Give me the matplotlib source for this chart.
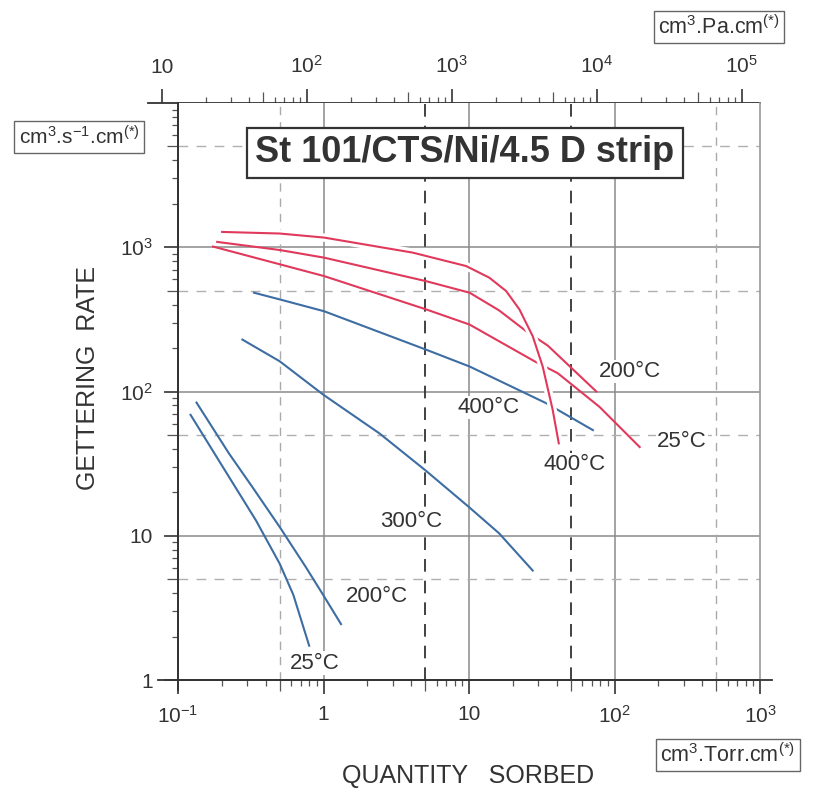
import matplotlib
matplotlib.use('Agg')
import matplotlib.pyplot as plt
import matplotlib.patheffects as pe
import numpy as np
from matplotlib.ticker import FixedLocator, NullFormatter, FixedFormatter

# Gettering curves (x: cm3.Torr.cm, y: cm3.s-1.cm)
red_400_x = [0.201, 0.5, 1.01, 4.1, 9.55, 13.8, 18, 22.2, 27.4, 32.1, 37.6, 41.4]
red_400_y = [1277, 1245, 1167, 918, 741, 615, 497, 371, 242, 149, 74.6, 43.7]

red_200_x = [0.186, 0.5, 1.01, 5.07, 10.1, 16.1, 24.7, 34.8, 75]
red_200_y = [1089, 957, 847, 582, 484, 365, 262, 208, 100]

red_25_x = [0.174, 0.5, 1.01, 5.07, 10.1, 16.1, 28.2, 40.7, 78.8, 149]
red_25_y = [1011, 762, 631, 371, 291, 223, 162, 134, 78.3, 41.2]

blue_400_x = [0.333, 0.5, 1.01, 5.07, 10.1, 33.9, 71]
blue_400_y = [484, 435, 360, 195, 149, 83, 54]

blue_300_x = [0.277, 0.5, 1.0, 2.42, 5.0, 10.0, 16.1, 27.4]
blue_300_y = [229, 162, 94.8, 51.3, 28.5, 15.8, 10.4, 5.74]

blue_200_x = [0.134, 0.224, 0.324, 0.5, 0.757, 0.985, 1.32]
blue_200_y = [83.8, 37.2, 21.8, 11.5, 6.05, 3.95, 2.44]

blue_25_x = [0.122, 0.224, 0.343, 0.5, 0.62, 0.797]
blue_25_y = [68.9, 25.6, 12.8, 6.4, 3.9, 1.73]

# curve labels: text, x, y
etiquetas = [('200°C', 127, 138), ('400°C', 13.7, 77), ('400°C', 53, 31),
             ('25°C', 290, 45), ('300°C', 4.0, 12.5), ('200°C', 2.32, 3.77),
             ('25°C', 0.867, 1.31)]

x_ticks = [0.1, 1, 10, 100, 1000]
x_labels = [r'$10^{-1}$', '1', '10', r'$10^2$', r'$10^3$']
y_ticks = [1, 10, 100, 1000]
y_labels = ['1', '10', r'$10^2$', r'$10^3$']
pa_ticks = [10, 100, 1000, 1e4, 1e5]
pa_labels = ['10', r'$10^2$', r'$10^3$', r'$10^4$', r'$10^5$']
TORR_PA = 133.32

plt.rcParams['font.family'] = ['Liberation Sans', 'DejaVu Sans']
plt.rcParams['mathtext.fontset'] = 'custom'
plt.rcParams['mathtext.rm'] = 'Liberation Sans'
plt.rcParams['mathtext.it'] = 'Liberation Sans:italic'
plt.rcParams['mathtext.bf'] = 'Liberation Sans:bold'

W, H = 813, 791
fig = plt.figure(figsize=(W / 100, H / 100), dpi=100)
L, R, T, B = 178, 760, 103, 680
ax = fig.add_axes([L / W, 1 - B / H, (R - L) / W, (B - T) / H])

ax.set_xscale('log')
ax.set_yscale('log')
ax.set_xlim(0.1, 1000)
ax.set_ylim(1, 1e4)

def minor_locs(lo, hi):
    return [m * 10.0 ** e for e in range(lo, hi) for m in range(2, 10)]

def style_ticks(axis, tickline='tick1line'):
    # medium tick at 5x
    locs = axis.get_minorticklocs()
    for t, loc in zip(axis.get_minor_ticks(len(locs)), locs):
        mant = loc / 10 ** np.floor(np.log10(loc) + 1e-9)
        if abs(mant - 5) < 0.01:
            getattr(t, tickline).set_markersize(8)

ax.xaxis.set_major_locator(FixedLocator(x_ticks))
ax.xaxis.set_major_formatter(FixedFormatter(x_labels))
ax.xaxis.set_minor_locator(FixedLocator(minor_locs(-1, 3)))
ax.xaxis.set_minor_formatter(NullFormatter())
ax.yaxis.set_major_locator(FixedLocator(y_ticks))
ax.yaxis.set_major_formatter(FixedFormatter(y_labels))
ax.yaxis.set_minor_locator(FixedLocator(minor_locs(0, 4)))
ax.yaxis.set_minor_formatter(NullFormatter())
ax.tick_params(which='major', direction='out', length=10, width=1.2, labelsize=15, pad=8,
               color='#333', labelcolor='#333')
ax.tick_params(which='minor', direction='out', length=4, width=0.9, color='#555')
style_ticks(ax.xaxis)
style_ticks(ax.yaxis)

for s in ['left', 'bottom']:
    ax.spines[s].set_linewidth(1.3)
    ax.spines[s].set_color('#333')
ax.spines['top'].set_visible(False)
ax.spines['right'].set_color('#999')
ax.spines['right'].set_linewidth(1.2)

# grid: solid at decades, dashed at 5x
for v in [1, 10, 100]:
    ax.axvline(v, color='#8a8a8a', lw=1.1, zorder=1)
for v in [10, 100, 1000]:
    ax.axhline(v, color='#8a8a8a', lw=1.1, zorder=1)
for v in [0.5, 500]:
    ax.axvline(v, color='#aaaaaa', lw=1.0, ls=(0, (6, 5)), zorder=1)
for v in [5, 50]:
    ax.axvline(v, color='#333333', lw=1.3, ls=(0, (7, 5)), zorder=1)
for v in [5, 50, 500, 5000]:
    ax.axhline(v, color='#b0b0b0', lw=1.0, ls=(0, (7, 6)), zorder=1)

# axis lines run a little past the frame
ax.plot([-0.035, 1.02], [0, 0], transform=ax.transAxes, color='#333', lw=1.3, clip_on=False)
ax.plot([0, 0], [-0.018, 1], transform=ax.transAxes, color='#333', lw=1.3, clip_on=False)

rojo = '#e0395c'
azul = '#3d6da3'
lw = 1.5
ax.plot(red_200_x, red_200_y, color=rojo, lw=lw, zorder=3)
ax.plot(red_25_x, red_25_y, color=rojo, lw=lw, zorder=3)
ax.plot(blue_400_x, blue_400_y, color=azul, lw=lw, zorder=3)
ax.plot(blue_300_x, blue_300_y, color=azul, lw=lw, zorder=3)
ax.plot(blue_200_x, blue_200_y, color=azul, lw=lw, zorder=3)
ax.plot(blue_25_x, blue_25_y, color=azul, lw=lw, zorder=3)
ax.plot(red_400_x, red_400_y, color=rojo, lw=lw, zorder=4,
        path_effects=[pe.Stroke(linewidth=6, foreground='white'), pe.Normal()])

for txt, xx, yy in etiquetas:
    ax.text(xx, yy, txt, fontsize=16, color='#333', ha='center', va='center', zorder=5,
            bbox=dict(boxstyle='square,pad=0.05', fc='white', ec='none'))

# top axis in Pa
PL = 148
pa_max = 1000 * TORR_PA
pa_min = pa_max * 10 ** (-(R - PL) / 145.0)
axt = fig.add_axes([PL / W, 1 - B / H, (R - PL) / W, (B - T) / H], zorder=-1)
axt.patch.set_visible(False)
axt.set_xscale('log')
axt.set_xlim(pa_min, pa_max)
axt.set_yticks([])
for s in ['left', 'right', 'bottom']:
    axt.spines[s].set_visible(False)
axt.spines['top'].set_linewidth(1.3)
axt.spines['top'].set_color('#333')
axt.xaxis.tick_top()
axt.xaxis.set_major_locator(FixedLocator(pa_ticks))
axt.xaxis.set_major_formatter(FixedFormatter(pa_labels))
axt.xaxis.set_minor_locator(FixedLocator(minor_locs(1, 6)))
axt.xaxis.set_minor_formatter(NullFormatter())
axt.tick_params(which='major', direction='out', length=10, width=1.2, labelsize=15, pad=9,
                color='#333', labelcolor='#333')
axt.tick_params(which='minor', direction='out', length=4, width=0.9, color='#555')
style_ticks(axt.xaxis, 'tick2line')

# labels
fig.text(465 / W, 1 - 153 / H, 'St 101/CTS/Ni/4.5 D strip', fontsize=26, fontweight='bold',
         color='#333', ha='center', va='center',
         bbox=dict(boxstyle='square,pad=0.22', fc='white', ec='#333', lw=1.6))
fig.text(79 / W, 1 - 137 / H, r'cm$^3$.s$^{-1}$.cm$^{(*)}$', fontsize=15, color='#333',
         ha='center', va='center', bbox=dict(boxstyle='square,pad=0.2', fc='white', ec='#666', lw=1))
fig.text(719 / W, 1 - 27 / H, r'cm$^3$.Pa.cm$^{(*)}$', fontsize=15.5, color='#333',
         ha='center', va='center', bbox=dict(boxstyle='square,pad=0.2', fc='white', ec='#666', lw=1))
fig.text(728 / W, 1 - 755 / H, r'cm$^3$.Torr.cm$^{(*)}$', fontsize=15.5, color='#333',
         ha='center', va='center', bbox=dict(boxstyle='square,pad=0.2', fc='white', ec='#666', lw=1))
fig.text(88 / W, 1 - 378 / H, 'GETTERING  RATE', fontsize=18, color='#333', rotation=90,
         ha='center', va='center')
fig.text(468 / W, 1 - 776 / H, 'QUANTITY   SORBED', fontsize=18, color='#333',
         ha='center', va='center')

plt.savefig('out.png', dpi=100)
plt.close()
